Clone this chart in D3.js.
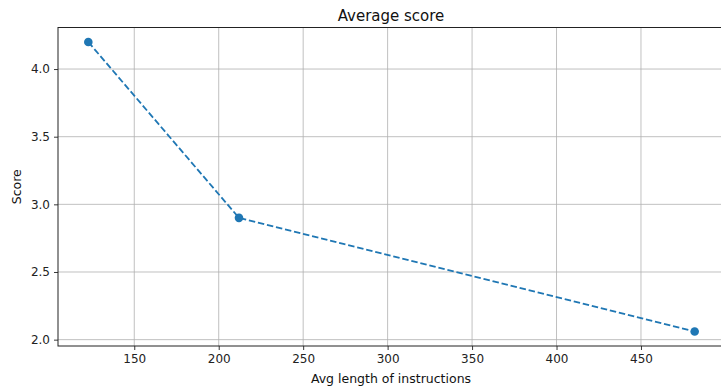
<!DOCTYPE html>
<html>
<head>
<meta charset="utf-8">
<script src="https://cdn.jsdelivr.net/npm/d3@7"></script>
<style>
  html, body { margin: 0; padding: 0; background: #fff; }
  svg { display: block; font-family: "DejaVu Sans", sans-serif; }
</style>
</head>
<body>
<svg id="chart" width="721" height="388"></svg>
<script>
// Average instruction length vs. average score
const avgLength = [122.8, 212, 481.8];
const avgScore = [4.20, 2.90, 2.06];
const xTicks = [150, 200, 250, 300, 350, 400, 450];
const yTicks = [2.0, 2.5, 3.0, 3.5, 4.0];

const W = 721, H = 388;
const plot = { left: 58, right: 725, top: 27.5, bottom: 346 };

const svg = d3.select("#chart");

// 5% padding around the data range on each axis
const xMin = d3.min(avgLength), xMax = d3.max(avgLength);
const yMin = d3.min(avgScore), yMax = d3.max(avgScore);
const xPad = (xMax - xMin) * 0.05, yPad = (yMax - yMin) * 0.05;

const x = d3.scaleLinear().domain([xMin - xPad, xMax + xPad]).range([plot.left, plot.right]);
const y = d3.scaleLinear().domain([yMin - yPad, yMax + yPad]).range([plot.bottom, plot.top]);

// Grid
const grid = svg.append("g").attr("stroke", "#b0b0b0").attr("stroke-width", 0.8);
grid.selectAll(".gx").data(xTicks).join("line")
  .attr("x1", d => x(d)).attr("x2", d => x(d))
  .attr("y1", plot.top).attr("y2", plot.bottom);
grid.selectAll(".gy").data(yTicks).join("line")
  .attr("x1", plot.left).attr("x2", plot.right)
  .attr("y1", d => y(d)).attr("y2", d => y(d));

// Axes
const xAxis = svg.append("g")
  .attr("transform", `translate(0,${plot.bottom})`)
  .call(d3.axisBottom(x).tickValues(xTicks).tickSize(4).tickPadding(4).tickSizeOuter(0));
const yAxis = svg.append("g")
  .attr("transform", `translate(${plot.left},0)`)
  .call(d3.axisLeft(y).tickValues(yTicks).tickFormat(d3.format(".1f")).tickSize(4).tickPadding(4).tickSizeOuter(0));

[xAxis, yAxis].forEach(a => {
  a.select(".domain").remove();
  a.selectAll("text").attr("font-size", 12).attr("fill", "#222").attr("font-family", "DejaVu Sans");
  a.selectAll("line").attr("stroke", "#222").attr("stroke-width", 0.9);
});

// Spines
svg.append("rect")
  .attr("x", plot.left).attr("y", plot.top)
  .attr("width", plot.right - plot.left).attr("height", plot.bottom - plot.top)
  .attr("fill", "none").attr("stroke", "#222").attr("stroke-width", 1);

// Line and markers
const pts = avgLength.map((v, i) => [v, avgScore[i]]);
svg.append("path")
  .datum(pts)
  .attr("fill", "none")
  .attr("stroke", "#1f77b4")
  .attr("stroke-width", 1.8)
  .attr("stroke-dasharray", "6.5,2.8")
  .attr("d", d3.line().x(d => x(d[0])).y(d => y(d[1])));
svg.selectAll(".pt").data(pts).join("circle")
  .attr("cx", d => x(d[0])).attr("cy", d => y(d[1]))
  .attr("r", 4.3).attr("fill", "#1f77b4");

// Labels
svg.append("text").attr("x", 391).attr("y", 21)
  .attr("text-anchor", "middle").attr("font-size", 15).attr("fill", "#111")
  .text("Average score");
svg.append("text").attr("x", 391).attr("y", 383)
  .attr("text-anchor", "middle").attr("font-size", 12.5).attr("fill", "#111")
  .text("Avg length of instructions");
svg.append("text")
  .attr("transform", `translate(21,${(plot.top + plot.bottom) / 2}) rotate(-90)`)
  .attr("text-anchor", "middle").attr("font-size", 12.5).attr("fill", "#111")
  .text("Score");
</script>
</body>
</html>
